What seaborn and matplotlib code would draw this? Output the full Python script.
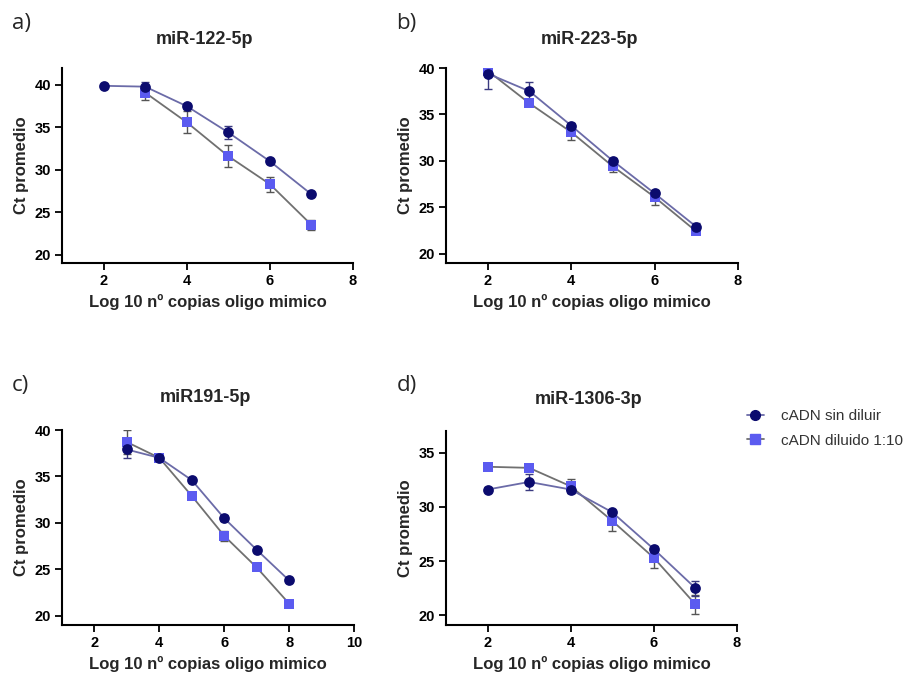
import numpy as np
import pandas as pd
import matplotlib
matplotlib.use("Agg")
import matplotlib.pyplot as plt
from matplotlib.lines import Line2D
import seaborn as sns

sns.set_theme(style="ticks")
plt.rcParams['font.family'] = ['Liberation Sans', 'DejaVu Sans']

series_names = ["cADN sin diluir", "cADN diluido 1:10"]

# Panel a: miR-122-5p
a_x = [2, 3, 4, 5, 6, 7]
a_circ = [39.9, 39.8, 37.5, 34.4, 31.0, 27.1]
a_circ_err = [0.0, 0.5, 0.3, 0.8, 0.2, 0.2]
a_sq = [np.nan, 39.1, 35.6, 31.6, 28.3, 23.5]
a_sq_err = [0.0, 0.9, 1.3, 1.3, 0.9, 0.6]

# Panel b: miR-223-5p
b_x = [2, 3, 4, 5, 6, 7]
b_circ = [39.4, 37.5, 33.8, 30.0, 26.5, 22.9]
b_circ_err = [1.7, 1.0, 0.3, 0.3, 0.3, 0.4]
b_sq = [39.7, 36.2, 33.1, 29.4, 26.1, 22.4]
b_sq_err = [0.3, 0.2, 0.8, 0.6, 0.8, 0.3]

# Panel c: miR191-5p
c_x = [3, 4, 5, 6, 7, 8]
c_circ = [37.9, 37.0, 34.6, 30.5, 27.1, 23.8]
c_circ_err = [0.9, 0.2, 0.2, 0.3, 0.2, 0.2]
c_sq = [38.7, 37.0, 32.9, 28.6, 25.2, 21.3]
c_sq_err = [1.25, 0.2, 0.3, 0.5, 0.2, 0.2]

# Panel d: miR-1306-3p
d_x = [2, 3, 4, 5, 6, 7]
d_circ = [31.6, 32.3, 31.6, 29.5, 26.1, 22.5]
d_circ_err = [0.2, 0.75, 0.3, 0.2, 0.3, 0.7]
d_sq = [33.7, 33.6, 31.9, 28.7, 25.3, 21.0]
d_sq_err = [0.2, 0.2, 0.65, 0.9, 0.9, 0.85]

titles = ["miR-122-5p", "miR-223-5p", "miR191-5p", "miR-1306-3p"]
letters = ["a)", "b)", "c)", "d)"]
xlabel = "Log 10 nº copias oligo mimico"
ylabel = "Ct promedio"

circ_marker_color = "#0b0b6e"
circ_line_color = "#6b6ba8"
sq_marker_color = "#5b5bf0"
sq_line_color = "#707070"

panels = [
    (a_x, a_circ, a_circ_err, a_sq, a_sq_err, (1, 8), [2, 4, 6, 8], (19, 42), [20, 25, 30, 35, 40]),
    (b_x, b_circ, b_circ_err, b_sq, b_sq_err, (1, 8), [2, 4, 6, 8], (19, 40), [20, 25, 30, 35, 40]),
    (c_x, c_circ, c_circ_err, c_sq, c_sq_err, (1, 10), [2, 4, 6, 8, 10], (19, 40), [20, 25, 30, 35, 40]),
    (d_x, d_circ, d_circ_err, d_sq, d_sq_err, (1, 8), [2, 4, 6, 8], (19.1, 37), [20, 25, 30, 35]),
]

positions = [
    [62/907, 1-263/680, 291/907, 195/680],
    [446/907, 1-263/680, 292/907, 195/680],
    [62/907, 1-625/680, 292/907, 195/680],
    [446/907, 1-625/680, 291/907, 194/680],
]
letter_pos = [(12/907, 1-24/680), (396/907, 1-24/680), (12/907, 1-386/680), (397/907, 1-385/680)]
title_y = [40, 40, 398, 400]

fig = plt.figure(figsize=(9.07, 6.8), dpi=100)

for i, (xs, circ, circ_err, sq, sq_err, xlim, xticks, ylim, yticks) in enumerate(panels):
    ax = fig.add_axes(positions[i])
    df = pd.DataFrame({
        "x": list(xs) * 2,
        "y": list(circ) + list(sq),
        "err": list(circ_err) + list(sq_err),
        "serie": [series_names[0]] * len(xs) + [series_names[1]] * len(xs),
    }).dropna()
    # error bars
    for name, col, z in [(series_names[1], "#555555", 2), (series_names[0], "#3a3a80", 3)]:
        sub = df[df["serie"] == name]
        ax.errorbar(sub["x"], sub["y"], yerr=sub["err"], fmt="none", ecolor=col,
                    elinewidth=1.0, capsize=3, capthick=1.0, zorder=z)
    # lines
    sns.lineplot(data=df, x="x", y="y", hue="serie", hue_order=series_names[::-1],
                 palette={series_names[0]: circ_line_color, series_names[1]: sq_line_color},
                 linewidth=1.3, legend=False, ax=ax, zorder=1, estimator=None)
    # markers
    sns.scatterplot(data=df[df["serie"] == series_names[1]], x="x", y="y", color=sq_marker_color,
                    marker="s", s=60, linewidth=0, legend=False, ax=ax, zorder=4)
    sns.scatterplot(data=df[df["serie"] == series_names[0]], x="x", y="y", color=circ_marker_color,
                    marker="o", s=60, linewidth=0, legend=False, ax=ax, zorder=5)

    ax.set_xlim(*xlim)
    ax.set_ylim(*ylim)
    ax.set_xticks(xticks)
    ax.set_yticks(yticks)
    sns.despine(ax=ax)
    for sp in ["left", "bottom"]:
        ax.spines[sp].set_linewidth(1.5)
        ax.spines[sp].set_color("black")
    ax.tick_params(direction="out", length=5, width=1.3, colors="black", labelsize=10.5, pad=3)
    for lab in ax.get_xticklabels() + ax.get_yticklabels():
        lab.set_fontweight("bold")
    ax.set_xlabel(xlabel, fontsize=12, fontweight="bold", labelpad=4)
    ax.set_ylabel(ylabel, fontsize=12, fontweight="bold", labelpad=4)
    ax.set_facecolor("white")
    cx = positions[i][0] + positions[i][2] * 0.49
    fig.text(cx, 1 - title_y[i]/680, titles[i], ha="center", va="center",
             fontsize=13, fontweight="bold")
    fig.text(letter_pos[i][0], letter_pos[i][1], letters[i], ha="left", va="center",
             fontsize=16, family=["Open Sans", "DejaVu Sans"])

handles = [
    Line2D([0], [0], color=circ_line_color, marker="o", markerfacecolor=circ_marker_color,
           markeredgecolor=circ_marker_color, markersize=7, linewidth=1.3),
    Line2D([0], [0], color=sq_line_color, marker="s", markerfacecolor=sq_marker_color,
           markeredgecolor=sq_marker_color, markersize=7, linewidth=1.3),
]
fig.legend(handles, series_names, loc="upper left", bbox_to_anchor=(747/907, 1-409/680),
           frameon=False, fontsize=11, handlelength=1.1, handletextpad=1.1,
           labelspacing=0.7, borderpad=0, borderaxespad=0, labelcolor="#333333")

fig.savefig("out.png", dpi=100, facecolor="white")
